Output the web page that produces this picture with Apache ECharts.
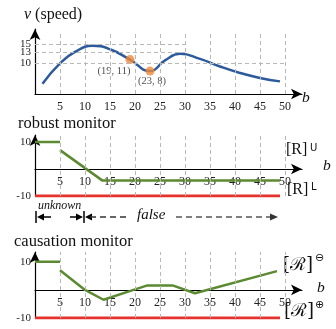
<!DOCTYPE html>
<html>
<head>
<meta charset="utf-8">
<title>speed / monitors</title>
<script src="https://cdn.jsdelivr.net/npm/echarts@6/dist/echarts.min.js"></script>
<style>
  html, body { margin: 0; padding: 0; background: #fff; }
  #chart { width: 336px; height: 329px; }
</style>
</head>
<body>
<div id="chart"></div>
<script>
// ---- data ----
const xTicks = [5, 10, 15, 20, 25, 30, 35, 40, 45, 50];
const speedTicks = [10, 13, 15];
const monitorTicks = [-10, 10];

// v (speed) curve, [b, v]
const speedCurve = [
  [1.5, 4.7], [5, 10], [8, 13], [11.5, 14.6], [15, 13.7], [19, 11], [23, 8],
  [26, 10.8], [29, 12.5], [33, 11.2], [37, 9.2], [41, 7.5], [45, 6.2], [49, 5.3],
];
const speedPoints = [[19, 11], [23, 8]];
// dashed reference lines: [value, end of line on b]
const speedRefLines = [[10, 50], [13, 30], [15, 30]];

// robust monitor
const robustUpper = [[0, 10], [5, 10]];
const robustLower = [[5, 7], [13.5, -4.3], [49, -4.3]];
const robustBottom = [[0, -10], [49, -10]];

// causation monitor
const causUpper = [[0, 10], [5, 10]];
const causLower = [
  [5, 7], [10, 0], [13.7, -3.5], [19.7, 0], [22.5, 1.6], [27.5, 1.6],
  [32, -1.2], [48.4, 6.7],
];
const causBottom = [[0, -10], [49, -10]];

const SERIF = 'Liberation Serif';
const BLUE = '#2c5a9c';
const GREEN = '#5b8a30';
const RED = '#e5322d';
const ORANGE = '#ef8a3c';
const GRIDC = '#b8b8b8';

// panel layout: grid box + y range
const panels = [
  { top: 29, height: 65, min: 2, max: 19, interval: 1, ticks: speedTicks },
  { top: 135, height: 61, min: -10, max: 12.6, interval: 10, ticks: monitorTicks },
  { top: 252, height: 66, min: -10, max: 13.5, interval: 10, ticks: monitorTicks },
];

const chart = echarts.init(document.getElementById('chart'));

function xAxisOf(gridIndex) {
  const p = panels[gridIndex];
  // labels sit under the zero line, not under the grid's bottom edge
  const lift = p.min < 0 ? (0 - p.min) / (p.max - p.min) * p.height : 0;
  return {
    type: 'value', gridIndex, min: 0, max: 53.4, interval: 5,
    axisLine: {
      onZero: true, onZeroAxisIndex: gridIndex,
      symbol: ['none', 'arrow'], symbolSize: [8, 11],
      lineStyle: { color: '#000', width: 1.2 },
    },
    axisTick: { show: false },
    splitLine: { show: false },
    axisLabel: {
      margin: 7 - lift, fontFamily: SERIF, fontSize: 12, color: '#222',
      formatter: (v) => (xTicks.includes(v) ? String(v) : ''),
    },
  };
}

function yAxisOf(gridIndex) {
  const p = panels[gridIndex];
  return {
    type: 'value', gridIndex, min: p.min, max: p.max, interval: p.interval,
    axisLine: {
      show: true, onZero: false,
      symbol: ['none', 'arrow'], symbolSize: [8, 11],
      lineStyle: { color: '#000', width: 1.2 },
    },
    axisTick: { show: false },
    splitLine: { show: false },
    axisLabel: {
      margin: 4, fontFamily: SERIF, fontSize: 11, color: '#222',
      formatter: (v) => (p.ticks.includes(v) ? String(v) : ''),
    },
  };
}

// vertical dashed grid lines, drawn from a series' markLine
function gridLines(xi, yi, yFrom, yTo, extra) {
  const data = xTicks.map((x) => [{ coord: [x, yFrom] }, { coord: [x, yTo] }]);
  return {
    type: 'line', xAxisIndex: xi, yAxisIndex: yi, data: [], z: 1,
    markLine: {
      silent: true, symbol: 'none', animation: false,
      label: { show: false },
      lineStyle: { color: GRIDC, type: [4, 3], width: 1 },
      data: data.concat(extra || []),
    },
  };
}

function line(xi, yi, data, color, width, smooth) {
  return {
    type: 'line', xAxisIndex: xi, yAxisIndex: yi, data, z: 3,
    smooth: smooth || false, showSymbol: false, symbol: 'none',
    lineStyle: { color, width }, animation: false,
  };
}

const pointLabelOffset = [[-16, 12], [2, 10]];

const option = {
  animation: false,
  title: [
    {
      text: '{i|v} (speed)', left: 19, top: 2,
      textStyle: {
        fontFamily: SERIF, fontSize: 16, fontWeight: 'normal', color: '#111',
        rich: { i: { fontFamily: SERIF, fontStyle: 'italic', fontSize: 16, color: '#111' } },
      },
    },
    {
      text: 'robust monitor', left: 13, top: 110,
      textStyle: { fontFamily: SERIF, fontSize: 16.5, fontWeight: 'normal', color: '#111' },
    },
    {
      text: 'causation monitor', left: 9, top: 228,
      textStyle: { fontFamily: SERIF, fontSize: 16.5, fontWeight: 'normal', color: '#111' },
    },
  ],
  grid: panels.map((p) => ({ left: 35, top: p.top, width: 267, height: p.height })),
  xAxis: [xAxisOf(0), xAxisOf(1), xAxisOf(2)],
  yAxis: [yAxisOf(0), yAxisOf(1), yAxisOf(2)],
  series: [
    // top: speed
    gridLines(0, 0, 2, 18, speedRefLines.map(([v, end]) => [{ coord: [0, v] }, { coord: [end, v] }])),
    line(0, 0, speedCurve, BLUE, 2.5, 0.5),
    {
      type: 'scatter', xAxisIndex: 0, yAxisIndex: 0, z: 4,
      symbolSize: 9, itemStyle: { color: ORANGE },
      data: speedPoints.map((p, i) => ({
        value: p,
        label: { offset: pointLabelOffset[i] },
      })),
      label: {
        show: true, position: 'inside',
        fontFamily: SERIF, fontSize: 10.5, color: '#222',
        formatter: (p) => `(${p.value[0]}, ${p.value[1]})`,
      },
    },
    // middle: robust monitor
    gridLines(1, 1, -10, 12.6),
    line(1, 1, robustBottom, RED, 3),
    line(1, 1, robustUpper, GREEN, 2.5),
    line(1, 1, robustLower, GREEN, 2.5),
    // bottom: causation monitor
    gridLines(2, 2, -10, 13.5),
    line(2, 2, causBottom, RED, 3),
    line(2, 2, causUpper, GREEN, 2.5),
    line(2, 2, causLower, GREEN, 2.5),
  ],
  graphic: [
    // axis names
    { type: 'text', left: 302, top: 90, style: { text: 'b', font: `italic 15.5px "${SERIF}"`, fill: '#111' } },
    { type: 'text', left: 323, top: 158, style: { text: 'b', font: `italic 15.5px "${SERIF}"`, fill: '#111' } },
    { type: 'text', left: 317, top: 280, style: { text: 'b', font: `italic 15.5px "${SERIF}"`, fill: '#111' } },
    // bound labels, robust monitor
    { type: 'text', left: 286, top: 142, style: { text: '[R]', font: `16px "${SERIF}"`, fill: '#111' } },
    { type: 'text', left: 310, top: 143, style: { text: 'U', font: '10px "DejaVu Sans"', fill: '#111' } },
    { type: 'text', left: 287, top: 182, style: { text: '[R]', font: `16px "${SERIF}"`, fill: '#111' } },
    { type: 'text', left: 311, top: 182, style: { text: 'L', font: '10px "DejaVu Sans"', fill: '#111' } },
    // bound labels, causation monitor
    { type: 'text', left: 283, top: 256, style: { text: '[ℛ]', font: '18px "DejaVu Serif"', fill: '#111' } },
    { type: 'text', left: 315, top: 253, style: { text: '⊖', font: '11px "DejaVu Sans"', fill: '#111' } },
    { type: 'text', left: 284, top: 302, style: { text: '[ℛ]', font: '18px "DejaVu Serif"', fill: '#111' } },
    { type: 'text', left: 315, top: 300, style: { text: '⊕', font: '11px "DejaVu Sans"', fill: '#111' } },
    // unknown / false annotation under the robust monitor
    { type: 'text', left: 38, top: 200, style: { text: 'unknown', font: `italic 12px "${SERIF}"`, fill: '#111' } },
    { type: 'line', shape: { x1: 36, y1: 211, x2: 36, y2: 223 }, style: { stroke: '#000', lineWidth: 1.5 } },
    { type: 'line', shape: { x1: 40, y1: 217, x2: 51, y2: 217 }, style: { stroke: '#000', lineWidth: 1.5 } },
    { type: 'polygon', shape: { points: [[37, 217], [44, 213.5], [44, 220.5]] }, style: { fill: '#000' } },
    { type: 'line', shape: { x1: 70, y1: 217, x2: 80, y2: 217 }, style: { stroke: '#000', lineWidth: 1.5 } },
    { type: 'polygon', shape: { points: [[83, 217], [76, 213.5], [76, 220.5]] }, style: { fill: '#000' } },
    { type: 'line', shape: { x1: 84, y1: 211, x2: 84, y2: 223 }, style: { stroke: '#000', lineWidth: 1.5 } },
    { type: 'polygon', shape: { points: [[85, 217], [92, 213.5], [92, 220.5]] }, style: { fill: '#000' } },
    { type: 'line', shape: { x1: 90, y1: 217, x2: 126, y2: 217 }, style: { stroke: '#333', lineWidth: 1.5, lineDash: [6, 4] } },
    { type: 'text', left: 137, top: 208, style: { text: 'false', font: `italic 15px "${SERIF}"`, fill: '#111' } },
    { type: 'line', shape: { x1: 176, y1: 217, x2: 271, y2: 217 }, style: { stroke: '#555', lineWidth: 1.5, lineDash: [6, 4] } },
    { type: 'polygon', shape: { points: [[278, 217], [270, 213.5], [270, 220.5]] }, style: { fill: '#333' } },
  ],
};

chart.setOption(option);
</script>
</body>
</html>
